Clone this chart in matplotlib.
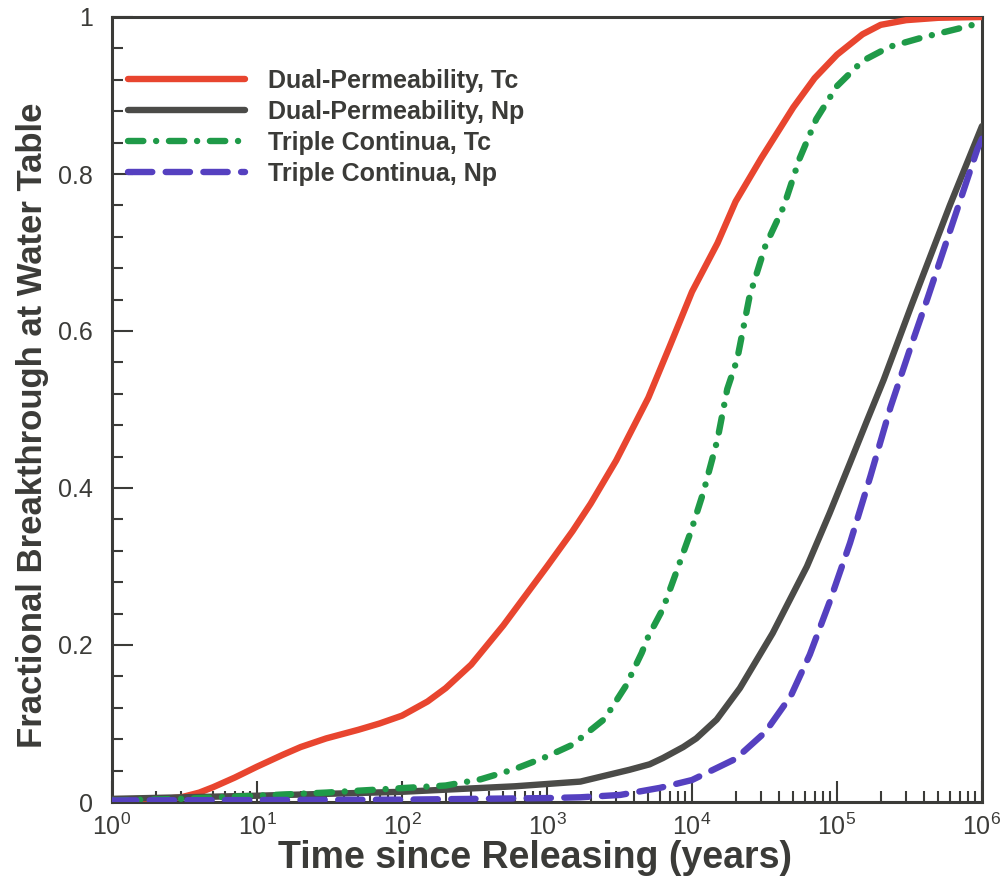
"""Fractional breakthrough at the water table: dual-permeability vs triple continua."""

import matplotlib

matplotlib.use("Agg")
import matplotlib.pyplot as plt
from matplotlib.ticker import FuncFormatter, LogLocator, MultipleLocator

# ---------------------------------------------------------------------------
# Data
# ---------------------------------------------------------------------------

dual_tc_t = [1, 2, 3, 4, 5, 7, 10, 15, 20, 30, 50, 70, 100, 150, 200, 300, 500,
             1000, 1500, 2000, 3000, 5000, 7000, 1e4, 1.5e4, 2e4, 3e4, 5e4, 7e4,
             1e5, 1.5e5, 2e5, 3e5, 5e5, 1e6]
dual_tc_y = [0.002, 0.003, 0.006, 0.012, 0.019, 0.031, 0.045, 0.060, 0.070, 0.081,
             0.092, 0.100, 0.110, 0.128, 0.145, 0.175, 0.225, 0.300, 0.345, 0.380,
             0.435, 0.515, 0.580, 0.650, 0.712, 0.765, 0.820, 0.885, 0.922, 0.952,
             0.978, 0.990, 0.996, 0.999, 1.000]

dual_np_t = [1, 10, 100, 600, 1700, 3700, 5100, 6300, 8700, 1.07e4, 1.48e4, 2.14e4,
             3.6e4, 6.2e4, 8.9e4, 1.23e5, 1.62e5, 2.1e5, 3.3e5, 6e5, 1e6]
dual_np_y = [0.004, 0.008, 0.013, 0.020, 0.026, 0.041, 0.048, 0.056, 0.070, 0.081,
             0.105, 0.145, 0.215, 0.300, 0.368, 0.432, 0.487, 0.538, 0.635, 0.760,
             0.861]

triple_tc_t = [1, 3, 10, 30, 70, 200, 350, 600, 1000, 1500, 2500, 3500, 4500, 5000,
               6300, 7800, 9800, 1.2e4, 1.5e4, 1.75e4, 2.05e4, 2.5e4, 3.2e4, 4.3e4,
               5.5e4, 7.2e4, 1e5, 1.5e5, 2.3e5, 3.9e5, 6.8e5, 1e6]
triple_tc_y = [0.002, 0.004, 0.008, 0.012, 0.016, 0.021, 0.029, 0.042, 0.058, 0.073,
               0.106, 0.148, 0.190, 0.211, 0.246, 0.293, 0.344, 0.395, 0.462, 0.526,
               0.564, 0.645, 0.708, 0.759, 0.819, 0.870, 0.912, 0.944, 0.962, 0.974,
               0.985, 0.993]

triple_np_t = [1, 100, 1000, 1700, 3200, 6000, 1e4, 2e4, 3.2e4, 4.8e4, 6.5e4, 8.9e4,
               1.23e5, 1.7e5, 2.34e5, 3.16e5, 4.2e5, 9.3e5, 1e6]
triple_np_y = [0.002, 0.003, 0.005, 0.006, 0.009, 0.018, 0.028, 0.055, 0.089, 0.135,
               0.188, 0.255, 0.330, 0.415, 0.503, 0.575, 0.641, 0.832, 0.845]

labels = ["Dual-Permeability, Tc", "Dual-Permeability, Np",
          "Triple Continua, Tc", "Triple Continua, Np"]

INK = "#3b3b38"

plt.rcParams["font.family"] = ["Liberation Sans", "DejaVu Sans"]
plt.rcParams["mathtext.fontset"] = "custom"
plt.rcParams["mathtext.rm"] = "Liberation Sans"
plt.rcParams["mathtext.it"] = "Liberation Sans:italic"
plt.rcParams["mathtext.bf"] = "Liberation Sans:bold"
plt.rcParams["mathtext.default"] = "regular"


def main() -> None:
    fig = plt.figure(figsize=(10.08, 8.81), dpi=100)
    ax = fig.add_axes([112 / 1008, 79 / 881, 870 / 1008, 785 / 881])

    lw = 4.6
    ax.plot(dual_tc_t, dual_tc_y, color="#e8452f", lw=lw, solid_capstyle="round",
            solid_joinstyle="round", label=labels[0], zorder=3)
    ax.plot(dual_np_t, dual_np_y, color="#4b4b48", lw=lw, solid_capstyle="round",
            solid_joinstyle="round", label=labels[1], zorder=3)
    ax.plot(triple_tc_t, triple_tc_y, color="#1f9a48", lw=lw, dash_capstyle="round",
            linestyle=(0, (2.4, 2.0, 0.01, 2.0)), label=labels[2], zorder=3)
    ax.plot(triple_np_t, triple_np_y, color="#5540c0", lw=lw, dash_capstyle="round",
            linestyle=(0, (3.8, 2.1)), label=labels[3], zorder=3)

    ax.set_xscale("log")
    ax.set_xlim(1, 1e6)
    ax.set_ylim(0, 1)

    ax.xaxis.set_major_locator(LogLocator(base=10, numticks=10))
    ax.xaxis.set_minor_locator(LogLocator(base=10, subs=range(2, 10), numticks=20))
    ax.yaxis.set_major_locator(MultipleLocator(0.2))
    ax.yaxis.set_minor_locator(MultipleLocator(0.04))
    ax.yaxis.set_major_formatter(FuncFormatter(lambda v, _: f"{v:g}"))

    ax.tick_params(which="both", direction="in", colors=INK, width=1.5,
                   top=False, right=False)
    ax.tick_params(which="major", length=15, labelsize=18)
    ax.tick_params(axis="y", which="major", pad=14)
    ax.tick_params(axis="x", which="major", pad=8)
    ax.tick_params(which="minor", length=8)
    for sp in ax.spines.values():
        sp.set_color(INK)
        sp.set_linewidth(2.2)

    ax.set_xlabel("Time since Releasing (years)", fontsize=27, fontweight="bold",
                  color=INK, labelpad=0, x=0.486)
    ax.set_ylabel("Fractional Breakthrough at Water Table", fontsize=25,
                  fontweight="bold", color=INK, labelpad=6.5, y=0.48)

    leg = ax.legend(loc="upper left", bbox_to_anchor=(-0.005, 0.959), frameon=False,
                    fontsize=18, handlelength=4.7, handletextpad=0.9,
                    labelspacing=0.28, borderaxespad=0.4)
    for txt in leg.get_texts():
        txt.set_fontweight("bold")
        txt.set_color(INK)

    fig.savefig("out.png", dpi=100)
    plt.close(fig)


if __name__ == "__main__":
    main()
